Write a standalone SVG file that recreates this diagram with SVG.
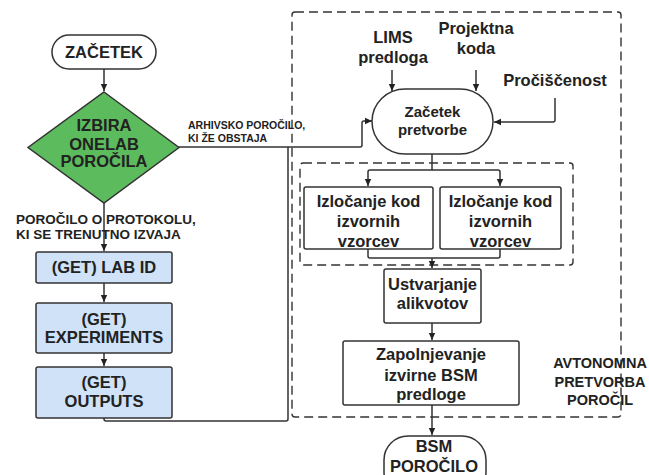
<svg xmlns="http://www.w3.org/2000/svg" width="649" height="475" viewBox="0 0 649 475">
<defs>
<marker id="ah" markerWidth="8" markerHeight="8" refX="7" refY="4" orient="auto" markerUnits="userSpaceOnUse">
<path d="M0,0.8 L7,4 L0,7.2 Z" fill="#222"/>
</marker>
<style>
text{font-family:"Liberation Sans",Arial,sans-serif;font-weight:bold;fill:#222;text-anchor:middle}
.n{stroke:#333;stroke-width:1.5;fill:#fff}
.g{fill:#5cbb5c}
.b{fill:#cfe2f8}
.c{fill:none;stroke:#333;stroke-width:1.5;stroke-linejoin:round}
.d{fill:none;stroke:#333;stroke-width:1.4;stroke-dasharray:9,5}
.t16{font-size:16.5px}
.t15{font-size:15px}
.lbl{font-size:10.5px;text-anchor:start}
.lbl2{font-size:13.5px;text-anchor:start}
</style>
</defs>
<g id="containers">
<rect class="d" x="292" y="12" width="329" height="405" rx="3"/>
<rect class="d" x="300" y="163" width="273" height="102" rx="3"/>
</g>
<g id="connectors">
<path class="c" d="M104,69 V91" marker-end="url(#ah)"/>
<path class="c" d="M104,203 V251" marker-end="url(#ah)"/>
<path class="c" d="M104,283 V302" marker-end="url(#ah)"/>
<path class="c" d="M104,353 V366" marker-end="url(#ah)"/>
<path class="c" d="M179,147 H360 Q362,147 362,145 V123 Q362,121 364,121 H372" marker-end="url(#ah)"/>
<path class="c" d="M104,418 V419 Q104,421 106,421 H286 Q288,421 288,419 V147"/>
<path class="c" d="M392,70 V91" marker-end="url(#ah)"/>
<path class="c" d="M476,70 V91" marker-end="url(#ah)"/>
<path class="c" d="M555,98 V120 Q555,122 553,122 H494" marker-end="url(#ah)"/>
<path class="c" d="M432,154 V170 H370 Q368,170 368,172 V186" marker-end="url(#ah)"/>
<path class="c" d="M432,170 H498 Q500,170 500,172 V186" marker-end="url(#ah)"/>
<path class="c" d="M368,249 V256 Q368,258 370,258 H498 Q500,258 500,256 V249"/>
<path class="c" d="M432,258 V268" marker-end="url(#ah)"/>
<path class="c" d="M432,323 V340" marker-end="url(#ah)"/>
<path class="c" d="M432,405 V435" marker-end="url(#ah)"/>
</g>
<g id="zacetek">
<rect class="n" x="52" y="35" width="104" height="34" rx="17"/>
<text class="t16" x="104" y="58">ZAČETEK</text>
</g>
<g id="izbira">
<polygon class="n g" points="104,92 179,147.5 104,203 28,147.5"/>
<text class="t16" x="104" y="131">IZBIRA</text>
<text class="t16" x="104" y="149.5">ONELAB</text>
<text class="t16" x="104" y="167">POROČILA</text>
</g>
<g id="lbl-arhiv">
<text class="lbl" x="188" y="129">ARHIVSKO POROČILO,</text>
<text class="lbl" x="188" y="142">KI ŽE OBSTAJA</text>
</g>
<g id="lbl-protokol">
<text class="lbl2" x="16" y="224">POROČILO O PROTOKOLU,</text>
<text class="lbl2" x="16" y="239">KI SE TRENUTNO IZVAJA</text>
</g>
<g id="labid">
<rect class="n b" x="36" y="252" width="136" height="31" rx="2"/>
<text class="t16" x="104" y="273">(GET) LAB ID</text>
</g>
<g id="experiments">
<rect class="n b" x="36" y="303" width="136" height="50" rx="2"/>
<text class="t16" x="104" y="324.5">(GET)</text>
<text class="t16" x="104" y="343">EXPERIMENTS</text>
</g>
<g id="outputs">
<rect class="n b" x="36" y="367" width="136" height="51" rx="2"/>
<text class="t16" x="104" y="388">(GET)</text>
<text class="t16" x="104" y="407">OUTPUTS</text>
</g>
<g id="lims">
<text class="t16" x="393" y="43">LIMS</text>
<text class="t16" x="393" y="63">predloga</text>
</g>
<g id="projektna">
<text class="t16" x="476" y="34">Projektna</text>
<text class="t16" x="476" y="54">koda</text>
</g>
<g id="prociscenost">
<text class="t16" x="555" y="86">Pročiščenost</text>
</g>
<g id="zacetek-pretvorbe">
<rect class="n" x="372" y="89" width="121" height="65" rx="33" ry="32.5"/>
<text class="t15" x="432.5" y="116.5">Začetek</text>
<text class="t15" x="432.5" y="135">pretvorbe</text>
</g>
<g id="izlocanje1">
<rect class="n" x="304" y="187" width="129" height="62" rx="2"/>
<text class="t16" x="368.5" y="207">Izločanje kod</text>
<text class="t16" x="368.5" y="227">izvornih</text>
<text class="t16" x="368.5" y="247">vzorcev</text>
</g>
<g id="izlocanje2">
<rect class="n" x="440" y="187" width="121" height="62" rx="2"/>
<text class="t16" x="500.5" y="207">Izločanje kod</text>
<text class="t16" x="500.5" y="227">izvornih</text>
<text class="t16" x="500.5" y="247">vzorcev</text>
</g>
<g id="ustvarjanje">
<rect class="n" x="384" y="269" width="97" height="54" rx="2"/>
<text class="t16" x="432.5" y="290">Ustvarjanje</text>
<text class="t16" x="432.5" y="308.5">alikvotov</text>
</g>
<g id="zapolnjevanje">
<rect class="n" x="343" y="341" width="176" height="64" rx="2"/>
<text class="t16" x="431" y="360">Zapolnjevanje</text>
<text class="t16" x="431" y="380.5">izvirne BSM</text>
<text class="t16" x="431" y="400">predloge</text>
</g>
<g id="bsm">
<rect class="n" x="384" y="436" width="102" height="60" rx="24"/>
<text class="t16" x="434" y="451.5">BSM</text>
<text class="t16" x="434" y="471.5">POROČILO</text>
</g>
<g id="lbl-avtonomna">
<text style="font-size:14.5px" x="600" y="368">AVTONOMNA</text>
<text style="font-size:14.5px" x="600" y="386.5">PRETVORBA</text>
<text style="font-size:14.5px" x="600" y="405">POROČIL</text>
</g>
</svg>
